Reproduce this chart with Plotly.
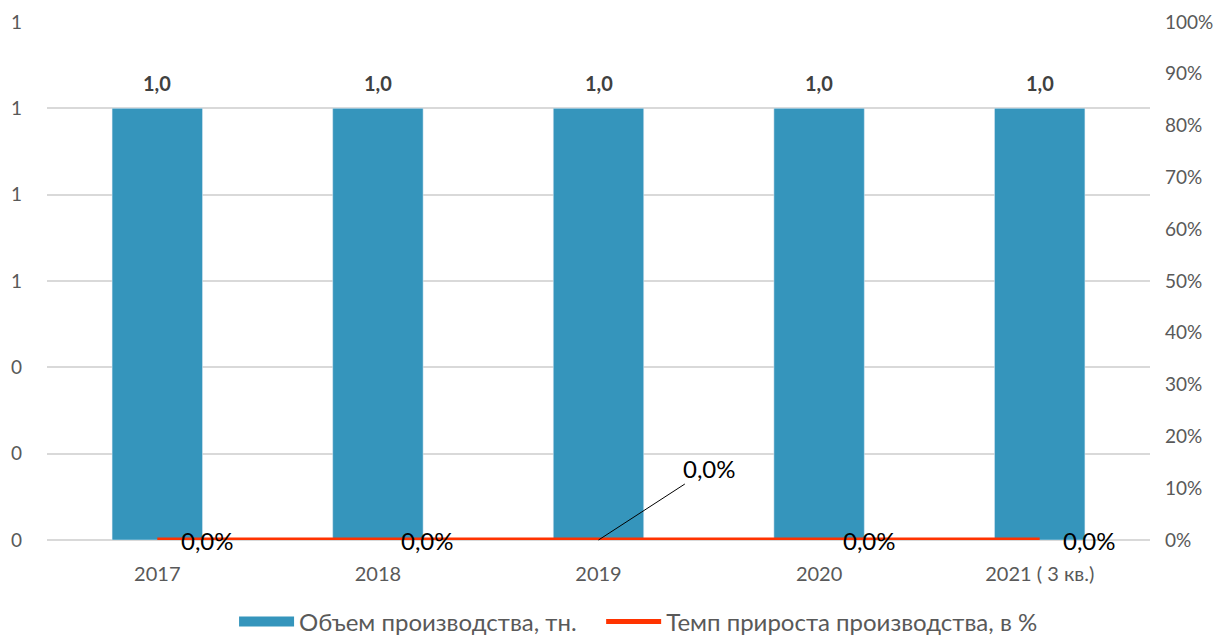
import plotly.graph_objects as go

categories = ["2017", "2018", "2019", "2020", "2021 ( 3 кв.)"]
volume = [1.0, 1.0, 1.0, 1.0, 1.0]
growth = [0.0, 0.0, 0.0, 0.0, 0.0]
bar_name = "Объем производства, тн."
line_name = "Темп прироста производства, в %"

FONT = "Lato"
BAR_COLOR = "#3595BC"
LINE_COLOR = "#FF3300"

fig = go.Figure()
fig.add_trace(go.Bar(
    x=categories, y=volume, name=bar_name, marker_color=BAR_COLOR,
    width=0.41, yaxis="y", showlegend=False,
))
fig.add_trace(go.Scatter(
    x=categories, y=growth, name=line_name, mode="lines",
    line=dict(color=LINE_COLOR, width=5), yaxis="y2", showlegend=False,
))
# legend entries
fig.add_trace(go.Scatter(
    x=[None], y=[None], name=bar_name, mode="lines",
    line=dict(color=BAR_COLOR, width=15), yaxis="y", legend="legend",
))
fig.add_trace(go.Scatter(
    x=[None], y=[None], name=line_name, mode="lines",
    line=dict(color=LINE_COLOR, width=5), yaxis="y2", legend="legend2",
))

# bar value labels
for i, v in enumerate(volume):
    fig.add_annotation(
        x=i, y=v, xref="x", yref="y", text=f"<b>{v:.1f}</b>".replace(".", ","),
        showarrow=False, yshift=25, font=dict(family=FONT, size=20, color="#404040"),
    )

# line value labels
for i, g in enumerate(growth):
    txt = f"{g*100:.1f}%".replace(".", ",")
    if i == 2:
        fig.add_annotation(
            x=i, y=g, xref="x", yref="y2", text=txt, showarrow=True,
            arrowhead=0, arrowwidth=1, arrowcolor="#000000",
            ax=111, ay=-72, font=dict(family=FONT, size=24, color="#000000"),
        )
    else:
        fig.add_annotation(
            x=i, y=g, xref="x", yref="y2", text=txt, showarrow=False,
            xshift=50, yshift=0, font=dict(family=FONT, size=24, color="#000000"),
        )

legend_common = dict(orientation="h", xanchor="left", y=-0.158, yanchor="middle",
                     font=dict(size=24, color="#595959"), itemwidth=55,
                     bgcolor="rgba(0,0,0,0)")

fig.update_layout(
    width=1228, height=637,
    margin=dict(l=47, r=78, t=22, b=97, autoexpand=False),
    paper_bgcolor="white", plot_bgcolor="white",
    separators=", ",
    font=dict(family=FONT, size=19, color="#595959"),
    bargap=0.59,
    xaxis=dict(type="category", range=[-0.5, 4.5], autorange=False, showgrid=False,
               showline=False, ticks="", categoryorder="array", categoryarray=categories,
               automargin=False, ticklabelstandoff=20,
               tickfont=dict(size=20, color="#595959")),
    yaxis=dict(range=[0, 1.2], dtick=0.2, tickformat=".0f", showgrid=True,
               gridcolor="#D9D9D9", gridwidth=1.5, zeroline=True, zerolinecolor="#D9D9D9",
               zerolinewidth=1.5, ticks="", ticklabelstandoff=24, automargin=False,
               tickfont=dict(size=19, color="#595959")),
    yaxis2=dict(range=[0, 1.0], dtick=0.1, tickformat=".0%", overlaying="y", side="right",
                showgrid=False, zeroline=False, ticks="", ticklabelstandoff=14,
                automargin=False, tickfont=dict(size=19, color="#595959")),
    legend=dict(x=0.1696, **legend_common),
    legend2=dict(x=0.5024, **legend_common),
    showlegend=True,
)

fig.write_html("out.html", config={"displayModeBar": False},
               post_script="document.body.style.margin='0';")
